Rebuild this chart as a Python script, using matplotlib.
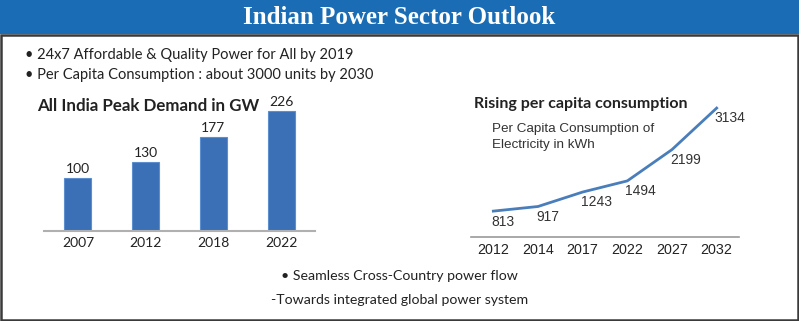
import matplotlib as mpl
import matplotlib.pyplot as plt
from matplotlib.patches import Rectangle

mpl.rcParams['font.family'] = 'Lato'

# peak demand (GW)
demand_years = ['2007', '2012', '2018', '2022']
demand_gw = [100, 130, 177, 226]

# per capita consumption (kWh)
pc_years = ['2012', '2014', '2017', '2022', '2027', '2032']
pc_kwh = [813, 917, 1243, 1494, 2199, 3134]

W, H = 799, 321
fig = plt.figure(figsize=(W / 100, H / 100), dpi=100)
fig.patch.set_facecolor('white')

# banner + frame
fig.add_artist(Rectangle((0, (H - 34) / H), 1, 34 / H, transform=fig.transFigure,
                         facecolor='#1a6db5', edgecolor='none'))
fig.add_artist(Rectangle((1 / W, 1.5 / H), 1 - 2.5 / W, (H - 36) / H, transform=fig.transFigure,
                         facecolor='none', edgecolor='#3a3a3a', linewidth=1.8))
fig.text(0.5, 1 - 17 / H, 'Indian Power Sector Outlook', ha='center', va='center',
         color='white', fontsize=18, fontweight='bold', family='Liberation Serif')

fig.text(25 / W, 1 - 55 / H, '• 24x7 Affordable & Quality Power for All by 2019',
         fontsize=10.5, va='center', color='#222222')
fig.text(25 / W, 1 - 75 / H, '• Per Capita Consumption : about 3000 units by 2030',
         fontsize=10.5, va='center', color='#222222')
fig.text(0.5, 1 - 276 / H, '• Seamless Cross-Country power flow',
         fontsize=10.2, ha='center', va='center', color='#222222')
fig.text(0.5, 1 - 300 / H, '-Towards integrated global power system',
         fontsize=10.2, ha='center', va='center', color='#222222')

# bar chart
ax1 = fig.add_axes([44 / W, (H - 231) / H, 271 / W, 131 / H])
x1 = range(len(demand_years))
ax1.bar(x1, demand_gw, width=0.4, color='#3b6fb6', edgecolor='#5b8fd0', linewidth=0.8)
for xi, v in zip(x1, demand_gw):
    ax1.text(xi, v + 5, str(v), ha='center', va='bottom', fontsize=10, color='#222222')
ax1.set_xlim(-0.5, 3.5)
ax1.set_ylim(0, 247)
ax1.set_xticks(list(x1))
ax1.set_xticklabels(demand_years, fontsize=10, color='#222222')
ax1.set_yticks([])
for s in ['left', 'right', 'top']:
    ax1.spines[s].set_visible(False)
ax1.spines['bottom'].set_color('#b0b0b0')
ax1.spines['bottom'].set_linewidth(1.5)
ax1.tick_params(axis='x', length=0, pad=4)
ax1.patch.set_alpha(0)
fig.text(37 / W, 1 - 106 / H, 'All India Peak Demand in GW', fontsize=12.2,
         fontweight='bold', va='center', color='#222222')

# line chart
ax2 = fig.add_axes([471 / W, (H - 237) / H, 268 / W, 147 / H])
x2 = range(len(pc_years))
ax2.plot(x2, pc_kwh, color='#4a7ebb', linewidth=2)
for xi, v in zip(x2, pc_kwh):
    ax2.annotate(str(v), (xi, v), xytext=(-1.5, -7.5), textcoords='offset points',
                 ha='left', va='center', fontsize=10, color='#333333',
                 family='Liberation Sans')
ax2.set_xlim(-0.5, 5.5)
ax2.set_ylim(230, 3541)
ax2.set_xticks(list(x2))
ax2.set_xticklabels(pc_years, fontsize=10.3, color='#222222', family='Liberation Sans')
ax2.set_yticks([])
for s in ['left', 'right', 'top']:
    ax2.spines[s].set_visible(False)
ax2.spines['bottom'].set_color('#9a9a9a')
ax2.spines['bottom'].set_linewidth(1.2)
ax2.tick_params(axis='x', length=0, pad=4)
ax2.patch.set_alpha(0)
fig.text(474 / W, 1 - 104 / H, 'Rising per capita consumption', fontsize=11.5,
         fontweight='bold', va='center', color='#222222')
fig.text(492 / W, 1 - 137 / H, 'Per Capita Consumption of\nElectricity in kWh',
         fontsize=9.7, va='center', color='#333333', family='Liberation Sans',
         linespacing=1.4)

fig.savefig('out.png', dpi=100)
